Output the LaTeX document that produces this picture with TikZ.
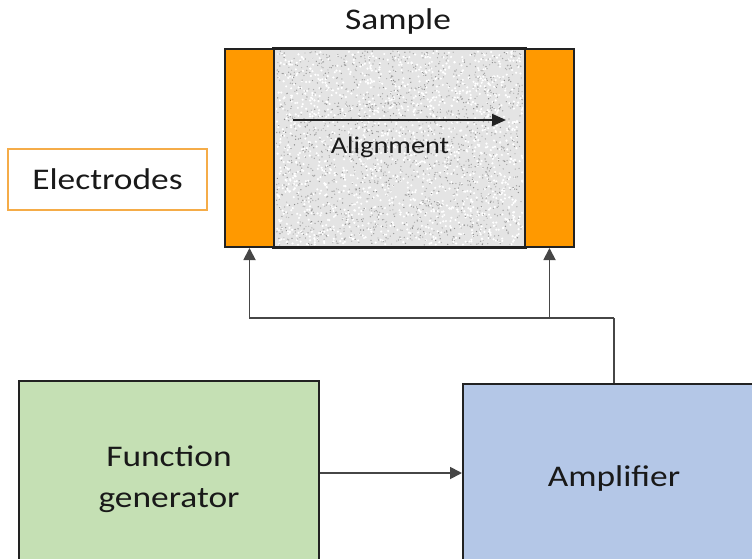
\documentclass[tikz,border=0pt]{standalone}
\usepackage{fontspec}
\setmainfont{Carlito}[FakeStretch=1.18]
\usetikzlibrary{arrows.meta}
\definecolor{elecfill}{RGB}{255,153,0}
\definecolor{elecedge}{RGB}{245,172,72}
\definecolor{edge}{RGB}{34,34,34}
\definecolor{wire}{RGB}{70,70,70}
\definecolor{fgfill}{RGB}{197,224,180}
\definecolor{ampfill}{RGB}{180,199,231}
\definecolor{sampfill}{RGB}{228,228,228}
\definecolor{txt}{RGB}{25,25,25}
\tikzset{
  blk/.style={draw=edge, line width=2pt, inner sep=0pt},
  elecbar/.style={blk, fill=elecfill, minimum width=49pt, minimum height=198pt},
  lbl/.style={text=txt, font=\fontsize{30}{41}\selectfont, align=center},
  wirearrow/.style={draw=wire, line width=1.8pt, -{Triangle[length=12pt,width=12pt]}},
  wireline/.style={draw=wire, line width=1.8pt},
}
\begin{document}
\begin{tikzpicture}[x=1pt,y=-1pt]
\useasboundingbox (0,0) rectangle (752,559);
\clip (0,0) rectangle (752,559);
% sample
\node[blk, fill=sampfill, minimum width=251pt, minimum height=198pt] (samp) at (399.5,148) {};
\begin{scope}
  \clip (276,51) rectangle (523,245);
  \pgfmathsetseed{12}
  \foreach \i in {1,...,1500}{
    \pgfmathsetmacro\px{276+247*rnd}
    \pgfmathsetmacro\py{51+194*rnd}
    \fill[white] (\px,\py) circle (1.2pt);
  }
  \foreach \i in {1,...,1800}{
    \pgfmathsetmacro\px{276+247*rnd}
    \pgfmathsetmacro\py{51+194*rnd}
    \pgfmathsetmacro\sh{25+22*rnd}
    \fill[black!\sh] (\px,\py) circle (0.7pt);
  }
\end{scope}
\draw[edge, line width=2pt] (samp.north west) rectangle (samp.south east);
\node[elecbar] (eL) at (249.5,148) {};
\node[elecbar] (eR) at (549.5,148) {};
\node[lbl] (sampt) at (398,22) {Sample};
\coordinate (aS) at (293,120);
\coordinate (aE) at (506,120);
\draw[edge, line width=2pt, -{Triangle[length=14pt,width=12pt]}] (aS) -- (aE);
\node[text=txt, font=\fontsize{24}{28}\selectfont] (align) at (390,147) {Alignment};
% electrodes label
\node[draw=elecedge, line width=1.8pt, minimum width=199pt, minimum height=61pt, lbl] (elab) at (107.5,179.5) {Electrodes};
% bottom blocks
\node[blk, fill=fgfill, minimum width=300pt, minimum height=196pt, lbl] (fg) at (169,479) {Function\\generator};
\node[blk, fill=ampfill, minimum width=302pt, minimum height=188pt, lbl] (amp) at (614,478) {Amplifier};
% connectors
\coordinate (j) at (614,318);
\draw[wirearrow] ([yshift=6pt]fg.east) -- ([yshift=6pt]fg.east -| amp.west);
\draw[wireline] (amp.north) -- (j);
\draw[wirearrow] (j) -| (eL.south);
\draw[wirearrow] (j -| eR.south) -- (eR.south);
\end{tikzpicture}
\end{document}
